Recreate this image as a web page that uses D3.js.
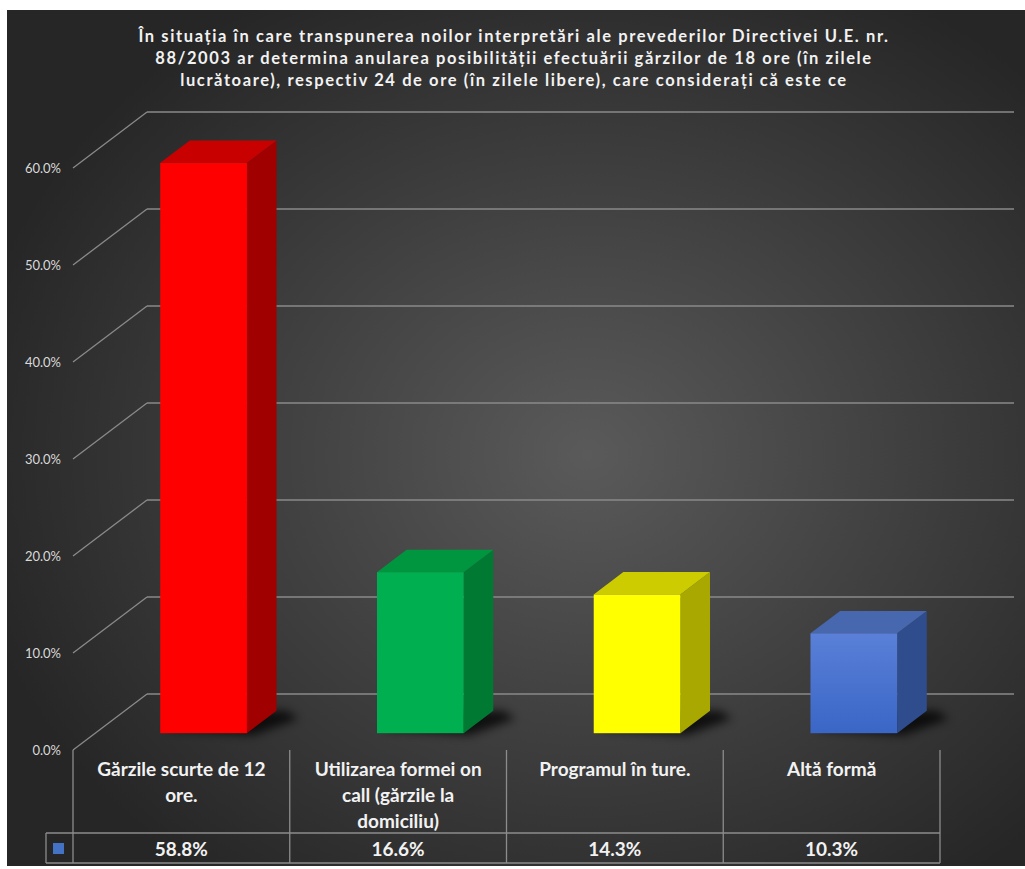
<!DOCTYPE html>
<html><head><meta charset="utf-8">
<script src="https://cdn.jsdelivr.net/npm/d3@7"></script>
<style>html,body{margin:0;padding:0;background:#fff;}svg{display:block;}</style>
</head><body>
<svg id="chart" width="1025" height="869"></svg>
<script>
const titleLines = [
  "În situația în care transpunerea noilor interpretări ale prevederilor Directivei U.E. nr.",
  "88/2003 ar determina anularea posibilității efectuării gărzilor de 18 ore (în zilele",
  "lucrătoare), respectiv 24 de ore (în zilele libere), care considerați că este ce"
];
const categories = ["Gărzile scurte de 12 ore.", "Utilizarea formei on call (gărzile la domiciliu)", "Programul în ture.", "Altă formă"];
const categoryLines = [["Gărzile scurte de 12", "ore."], ["Utilizarea formei on", "call (gărzile la", "domiciliu)"], ["Programul în ture."], ["Altă formă"]];
const values = [58.8, 16.6, 14.3, 10.3];
const valueLabels = ["58.8%", "16.6%", "14.3%", "10.3%"];
const tickValues = [0, 10, 20, 30, 40, 50, 60];
const tickLabels = ["0.0%", "10.0%", "20.0%", "30.0%", "40.0%", "50.0%", "60.0%"];
const barColors = [
  {front: "#ff0000", top: "#c80000", side: "#a00000"},
  {front: "#00b050", top: "#00963f", side: "#007a33"},
  {front: "#ffff00", top: "#cccc00", side: "#a8a800"},
  {front: "#4a74d0", top: "#4767ae", side: "#2f4d8c"}
];

const svg = d3.select("#chart");
const W = 1025, H = 869;
const defs = svg.append("defs");

// background
const rg = defs.append("radialGradient").attr("id", "bg").attr("cx", "57%").attr("cy", "52%").attr("r", "62%");
rg.append("stop").attr("offset", "0%").attr("stop-color", "#5a5a5a");
rg.append("stop").attr("offset", "100%").attr("stop-color", "#262626");
svg.append("rect").attr("x", 7).attr("y", 10).attr("width", W - 7).attr("height", 856).attr("fill", "url(#bg)");

const blur = defs.append("filter").attr("id", "shadow").attr("x", "-50%").attr("y", "-50%").attr("width", "200%").attr("height", "200%");
blur.append("feGaussianBlur").attr("stdDeviation", 5);

const blueGrad = defs.append("linearGradient").attr("id", "blueFront").attr("x1", 0).attr("y1", 0).attr("x2", 0).attr("y2", 1);
blueGrad.append("stop").attr("offset", "0%").attr("stop-color", "#5a80d8");
blueGrad.append("stop").attr("offset", "100%").attr("stop-color", "#3a66c6");

// geometry
const x0 = 73, x1 = 940;
const DX = 74, DY = -56; // full depth offset
const y = d3.scaleLinear().domain([0, 60]).range([750, 168]);
const x = d3.scaleBand().domain(categories).range([x0, x1]).paddingInner(0).paddingOuter(0);
const gridColor = "#8a8a8a";

// gridlines: side wall diagonals + back wall horizontals
const grid = svg.append("g");
tickValues.forEach(t => {
  grid.append("line").attr("x1", x0).attr("y1", y(t)).attr("x2", x0 + DX).attr("y2", y(t) + DY)
    .attr("stroke", gridColor).attr("stroke-width", 1.3);
  grid.append("line").attr("x1", x0 + DX).attr("y1", y(t) + DY).attr("x2", x1 + DX).attr("y2", y(t) + DY)
    .attr("stroke", gridColor).attr("stroke-width", 1.3);
});

// y labels
svg.append("g").selectAll("text").data(tickValues).join("text")
  .attr("x", 61).attr("y", d => y(d) + 4.5)
  .attr("text-anchor", "end").attr("font-family", "Lato, sans-serif").attr("font-size", 13)
  .attr("fill", "#d9d9d9").text((d, i) => tickLabels[i]);

// bars
const dFront = 0.3, dBack = 0.7;
const bw = x.bandwidth() * 0.4;
const bars = svg.append("g");
categories.forEach((c, i) => {
  const v = values[i];
  const col = barColors[i];
  const cx = x(c) + x.bandwidth() / 2;
  const fx = cx - bw / 2 + dFront * DX, fy = dFront * DY;
  const ddx = (dBack - dFront) * DX, ddy = (dBack - dFront) * DY;
  const left = fx, right = fx + bw;
  const bottom = y(0) + fy, top = y(v) + fy;
  // shadow
  bars.append("polygon")
    .attr("points", [[left + 6, bottom - 4], [right + 6, bottom + 2], [right + ddx + 22, bottom + ddy + 8], [right + ddx + 10, bottom + ddy], [left + ddx, bottom + ddy]].map(p => p.join(",")).join(" "))
    .attr("fill", "#000").attr("opacity", 0.75).attr("filter", "url(#shadow)");
  // side
  bars.append("polygon")
    .attr("points", [[right, top], [right + ddx, top + ddy], [right + ddx, bottom + ddy], [right, bottom]].map(p => p.join(",")).join(" "))
    .attr("fill", col.side);
  // top
  bars.append("polygon")
    .attr("points", [[left, top], [left + ddx, top + ddy], [right + ddx, top + ddy], [right, top]].map(p => p.join(",")).join(" "))
    .attr("fill", col.top);
  // front
  bars.append("rect").attr("x", left).attr("y", top).attr("width", bw).attr("height", bottom - top)
    .attr("fill", i === 3 ? "url(#blueFront)" : col.front);
});

// title
svg.append("g").selectAll("text").data(titleLines).join("text")
  .attr("x", 514).attr("y", (d, i) => 42 + i * 22)
  .attr("text-anchor", "middle").attr("font-family", "Lato, sans-serif").attr("font-weight", "bold")
  .attr("font-size", 16.5).attr("fill", "#f2f2f2").attr("letter-spacing", 1.6)
  .text(d => d);

// data table
const tbl = svg.append("g");
const tableColor = "#8c8c8c";
const rowTop = 833, rowBot = 863;
[x0].concat(categories.map(c => x(c) + x.bandwidth())).forEach(xx => {
  tbl.append("line").attr("x1", xx).attr("x2", xx).attr("y1", 750).attr("y2", rowBot)
    .attr("stroke", tableColor).attr("stroke-width", 1.3);
});
[rowTop, rowBot].forEach(yy => {
  tbl.append("line").attr("x1", 46).attr("x2", x1).attr("y1", yy).attr("y2", yy)
    .attr("stroke", tableColor).attr("stroke-width", 1.3);
});
tbl.append("line").attr("x1", 46).attr("x2", 46).attr("y1", rowTop).attr("y2", rowBot)
  .attr("stroke", tableColor).attr("stroke-width", 1.3);
tbl.append("rect").attr("x", 53).attr("y", 843).attr("width", 11).attr("height", 11).attr("fill", "#4472c4");

categories.forEach((c, i) => {
  const cx = x(c) + x.bandwidth() / 2;
  const t = tbl.append("text").attr("text-anchor", "middle").attr("font-family", "Lato, sans-serif")
    .attr("font-weight", "bold").attr("font-size", 19).attr("fill", "#f2f2f2");
  categoryLines[i].forEach((ln, j) => {
    t.append("tspan").attr("x", cx).attr("y", 776 + j * 26).text(ln);
  });
  tbl.append("text").attr("x", cx).attr("y", 856).attr("text-anchor", "middle")
    .attr("font-family", "Lato, sans-serif").attr("font-weight", "bold").attr("font-size", 19)
    .attr("fill", "#f2f2f2").text(valueLabels[i]);
});
</script>
</body></html>
